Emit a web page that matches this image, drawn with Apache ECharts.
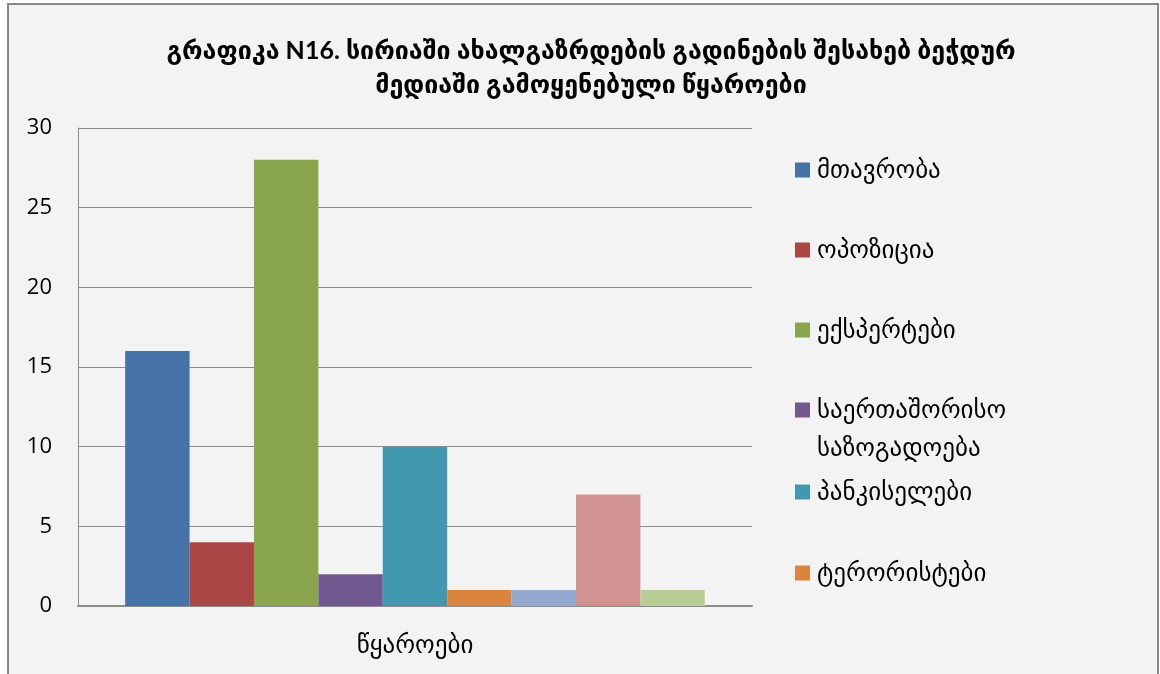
<!DOCTYPE html>
<html>
<head>
<meta charset="utf-8">
<script src="https://cdn.jsdelivr.net/npm/echarts@6/dist/echarts.min.js"></script>
<style>
  html, body { margin: 0; padding: 0; background: #ffffff; }
  #chart { width: 1160px; height: 674px; }
</style>
</head>
<body>
<div id="chart"></div>
<script>
// data
const categories = ['წყაროები']
const seriesNames = [
  'მთავრობა',
  'ოპოზიცია',
  'ექსპერტები',
  'საერთაშორისო საზოგადოება',
  'პანკისელები',
  'ტერორისტები',
  'სხვა 1',
  'სხვა 2',
  'სხვა 3',
]
const seriesValues = [16, 4, 28, 2, 10, 1, 1, 7, 1]
const seriesColors = ['#4572A7', '#AA4643', '#89A54E', '#71588F', '#4198AF', '#DB843D', '#93A9CF', '#D19392', '#B9CD96']
// only the first six legend entries fit in the original
const legendNames = seriesNames.slice(0, 6)
const yTicks = { min: 0, max: 30, interval: 5 }

const georgianFont = 'Lato, "DejaVu Sans", sans-serif'
const legendCenters = [170, 250, 330, 410, 492, 573]
const legendLine = 38

const chart = echarts.init(document.getElementById('chart'))

const option = {
  backgroundColor: '#ffffff',
  animation: false,
  textStyle: { fontFamily: georgianFont, color: '#000' },
  graphic: [
    {
      type: 'rect',
      z: -10,
      shape: { x: 8, y: 4, width: 1150, height: 680 },
      style: { fill: '#f3f3f3', stroke: '#888888', lineWidth: 2 },
      silent: true,
    },
  ],
  title: {
    text: 'გრაფიკა N16. სირიაში ახალგაზრდების გადინების შესახებ ბეჭდურ\nმედიაში გამოყენებული წყაროები',
    left: 586,
    top: 29,
    textAlign: 'center',
    textStyle: {
      fontFamily: georgianFont,
      fontSize: 25,
      fontWeight: 'bold',
      color: '#000',
      lineHeight: 34,
    },
  },
  legend: legendNames.map((name, i) => ({
    data: [name],
    orient: 'vertical',
    left: 795,
    top: i === 3 ? legendCenters[i] - legendLine * 1.5 : legendCenters[i] - legendLine / 2,
    padding: 0,
    itemWidth: 15,
    itemHeight: 15,
    icon: 'rect',
    selectedMode: false,
    formatter: (n) => (n === 'საერთაშორისო საზოგადოება' ? '\u00a0\nსაერთაშორისო\nსაზოგადოება' : n),
    textStyle: {
      fontFamily: georgianFont,
      fontSize: 25,
      color: '#000',
      lineHeight: legendLine,
      padding: [0, 0, 0, 2],
    },
  })),
  grid: { left: 78, right: 408, top: 128, bottom: 68 },
  xAxis: {
    type: 'category',
    data: categories,
    axisLine: { lineStyle: { color: '#8c8c8c', width: 2 } },
    axisTick: { show: false },
    axisLabel: { color: '#000', fontSize: 25, margin: 26, fontFamily: georgianFont },
  },
  yAxis: {
    type: 'value',
    min: yTicks.min,
    max: yTicks.max,
    interval: yTicks.interval,
    axisLine: { show: true, lineStyle: { color: '#8c8c8c', width: 1 } },
    axisTick: { show: false },
    axisLabel: { color: '#000', fontSize: 22, margin: 26, fontFamily: '"Open Sans", sans-serif' },
    splitLine: { lineStyle: { color: '#8c8c8c', width: 1 } },
  },
  series: seriesNames.map((name, i) => ({
    name,
    type: 'bar',
    data: [seriesValues[i]],
    barGap: '0%',
    barCategoryGap: '14%',
    itemStyle: { color: seriesColors[i] },
  })),
}

chart.setOption(option)
</script>
</body>
</html>
